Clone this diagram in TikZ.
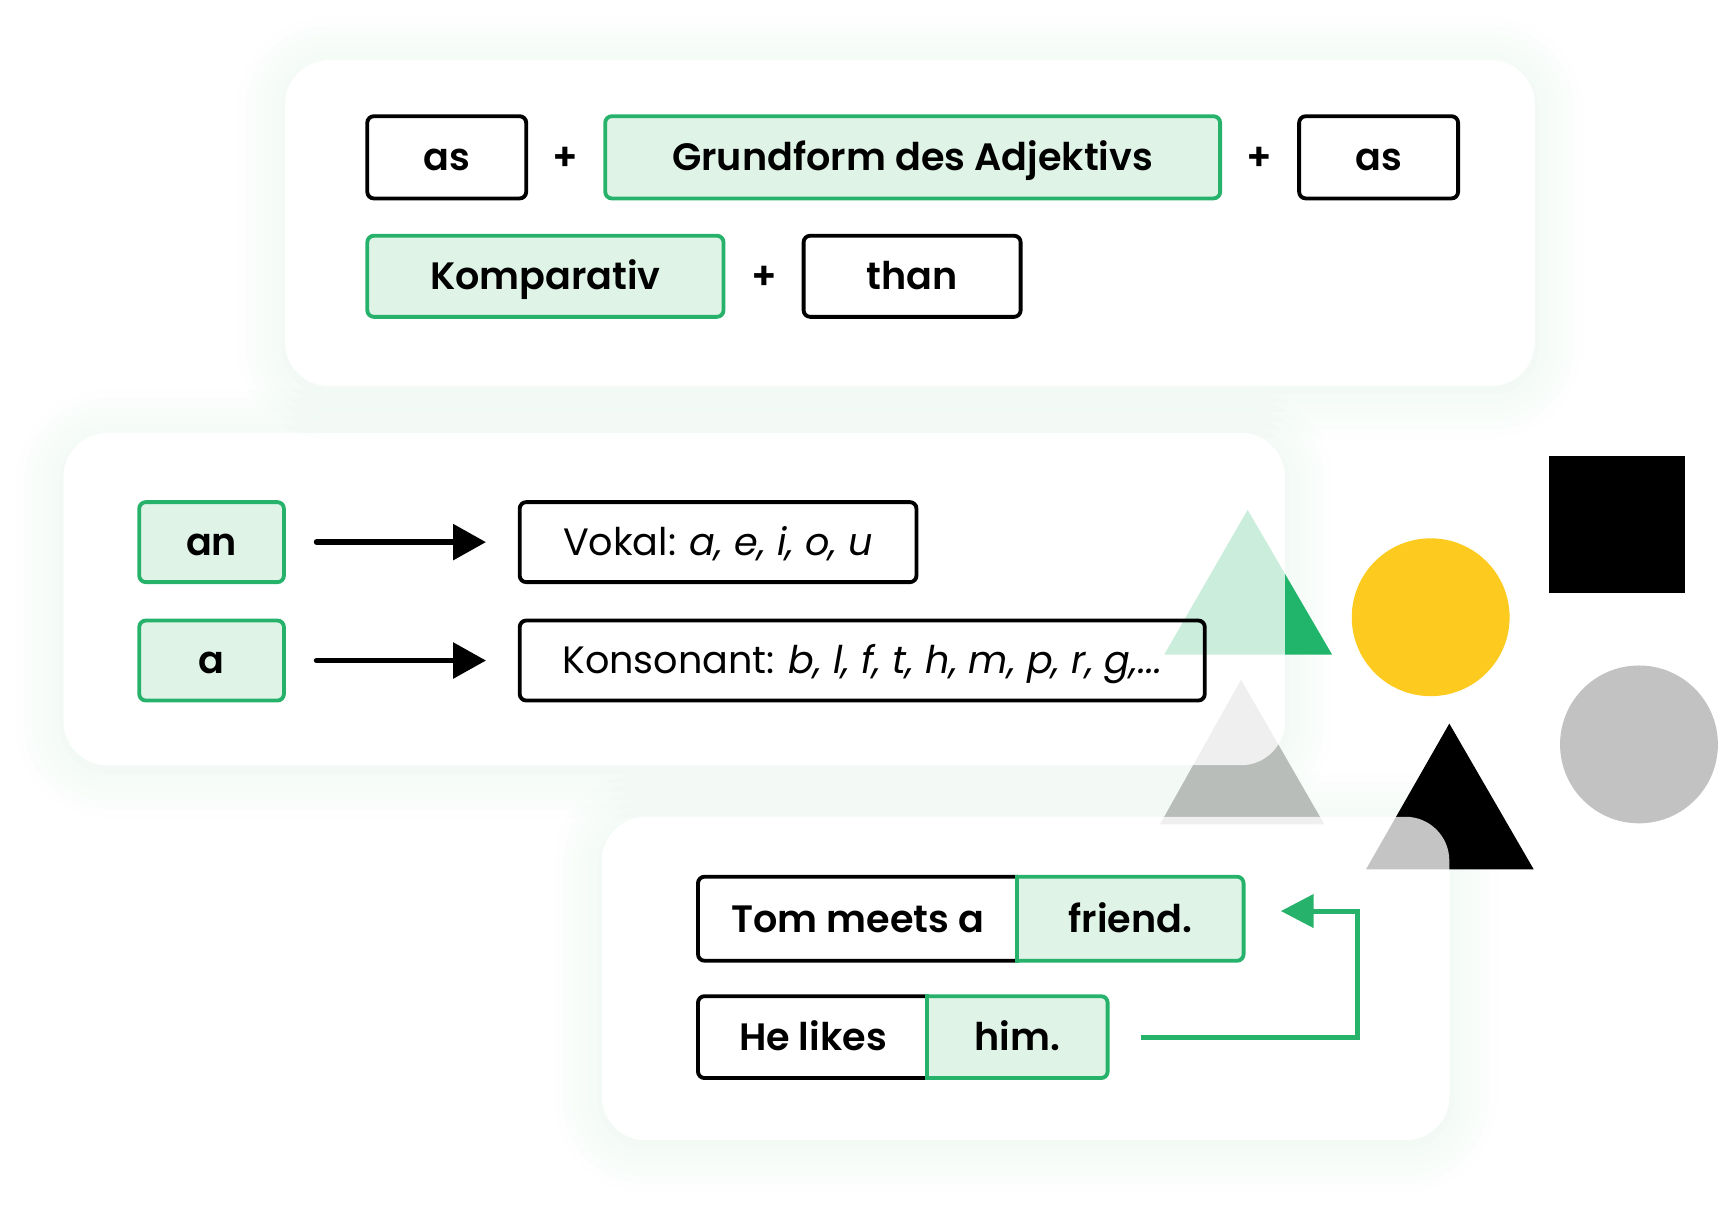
\documentclass[tikz,border=0pt]{standalone}
\usepackage{fontspec}
\setmainfont{Poppins}[BoldFont={Poppins SemiBold}]
\usetikzlibrary{arrows.meta}
\definecolor{gline}{HTML}{27B26C}
\definecolor{gfill}{HTML}{DFF3E7}
\definecolor{gtri}{HTML}{21B56B}
\definecolor{yel}{HTML}{FDCB1F}
\definecolor{gcirc}{HTML}{C2C2C2}
\definecolor{gtritwo}{HTML}{B9BDB9}
\definecolor{glow}{HTML}{D8F0E2}
\newcommand{\cardglow}[4]{%
  \foreach \d in {4,12,...,44}{%
    \fill[glow, fill opacity=0.06, even odd rule] [rounded corners={(40+\d)*0.02cm}] ({#1-\d},{#2-\d+4}) rectangle ({#3+\d},{#4+\d+4}) [rounded corners=0.8cm] (#1,#2) rectangle (#3,#4);
  }}
\tikzset{
  lbl/.style={font=\fontsize{19.8}{24}\selectfont\bfseries, text height=13.8pt, text depth=0pt, inner sep=0pt},
  box/.style={lbl, draw=black, line width=0.07cm, rounded corners=0.12cm, minimum height=1.5cm},
  gbox/.style={box, draw=gline, fill=gfill},
  regbox/.style={box, font=\fontsize{19.8}{24}\selectfont},
  pbox/.style={lbl, minimum height=1.5cm},
  plus/.style={lbl},
  card/.style={fill=white, fill opacity=0.77, rounded corners=0.8cm},
  barrow/.style={line width=0.1cm, line cap=round, -{Triangle[length=0.6cm,width=0.64cm]}},
  garrow/.style={draw=gline, line width=0.09cm, -{Triangle[length=0.6cm,width=0.6cm]}},
  edge/.style={line width=0.07cm, rounded corners=0.12cm},
}
\begin{document}
\begin{tikzpicture}[x=0.02cm, y=-0.02cm]
\useasboundingbox (0,0) rectangle (1568,1103);
% card glows
\cardglow{260}{55}{1400}{352}
\cardglow{58}{395}{1172}{698}
\cardglow{549}{745}{1322}{1040}
% decorative shapes
\fill[gtri] (1138,465) -- (1215,597) -- (1062,597) -- cycle;
\fill[gtritwo] (1132,620) -- (1208,752) -- (1058,752) -- cycle;
\fill[black] (1322,660) -- (1399,793) -- (1246,793) -- cycle;
\fill[yel] (1305,563) circle [radius=1.44cm];
\fill[black] (1413,416) rectangle (1537,541);
\fill[gcirc] (1495,679) circle [radius=1.44cm];
% cards
\fill[card] (260,55) rectangle (1400,352);
\fill[card] (58,395) rectangle (1172,698);
\fill[card] (549,745) rectangle (1322,1040);
% top card
\node[box, minimum width=2.9cm] (asa) at (407.5,143.5) {as};
\node[plus] (plusa) at (516,143.5) {+};
\node[gbox, minimum width=11.22cm] (grund) at (832.5,143.5) {Grundform des Adjektivs};
\node[plus] (plusb) at (1149,143.5) {+};
\node[box, minimum width=2.9cm] (asb) at (1257.5,143.5) {as};
\node[gbox, minimum width=6.5cm, minimum height=1.48cm] (komp) at (497.5,252) {Komparativ};
\node[plus] (plusc) at (697,252) {+};
\node[box, minimum width=3.96cm, minimum height=1.48cm] (than) at (832,252) {than};
% middle card
\node[gbox, minimum width=2.64cm, minimum height=1.46cm] (an) at (193,494.5) {an};
\node[gbox, minimum width=2.64cm, minimum height=1.46cm] (a) at (193,602.5) {a};
\node[regbox, minimum width=7.24cm, minimum height=1.46cm] (vokal) at (655,494.5) {Vokal: \textit{a, e, i, o, u}};
\node[regbox, minimum width=12.5cm, minimum height=1.46cm] (kons) at (786.5,602.5) {Konsonant: \textit{b, l, f, t, h, m, p, r, g,...}};
\draw[barrow, shorten <=0.56cm, shorten >=0.58cm] (an) -- (vokal);
\draw[barrow, shorten <=0.56cm, shorten >=0.58cm] (a) -- (kons);
% bottom card
\node[pbox, minimum width=5.82cm, minimum height=1.52cm] (tom) at (782.5,838) {Tom meets a};
\node[pbox, fill=gfill, rounded corners=0.12cm, minimum width=4.12cm, minimum height=1.52cm] (friend) at (1031,838) {friend.};
\node[pbox, minimum width=4.18cm, minimum height=1.48cm] (he) at (741.5,946) {He likes};
\node[pbox, fill=gfill, rounded corners=0.12cm, minimum width=3.28cm, minimum height=1.48cm] (him) at (928,946) {him.};
\draw[edge] (tom.north east) -- (tom.north west) -- (tom.south west) -- (tom.south east);
\draw[edge, gline] (friend.north west) -- (friend.north east) -- (friend.south east) -- (friend.south west);
\draw[gline, line width=0.07cm, line cap=rect] (friend.north west) -- (friend.south west);
\draw[edge] (he.north east) -- (he.north west) -- (he.south west) -- (he.south east);
\draw[edge, gline] (him.north west) -- (him.north east) -- (him.south east) -- (him.south west);
\draw[gline, line width=0.07cm, line cap=rect] (him.north west) -- (him.south west);
\coordinate (turn) at (1238,831);
\draw[garrow, shorten <=0.6cm, shorten >=0.68cm] (him.east) -| (turn) -- (turn -| friend.east);
\end{tikzpicture}
\end{document}
